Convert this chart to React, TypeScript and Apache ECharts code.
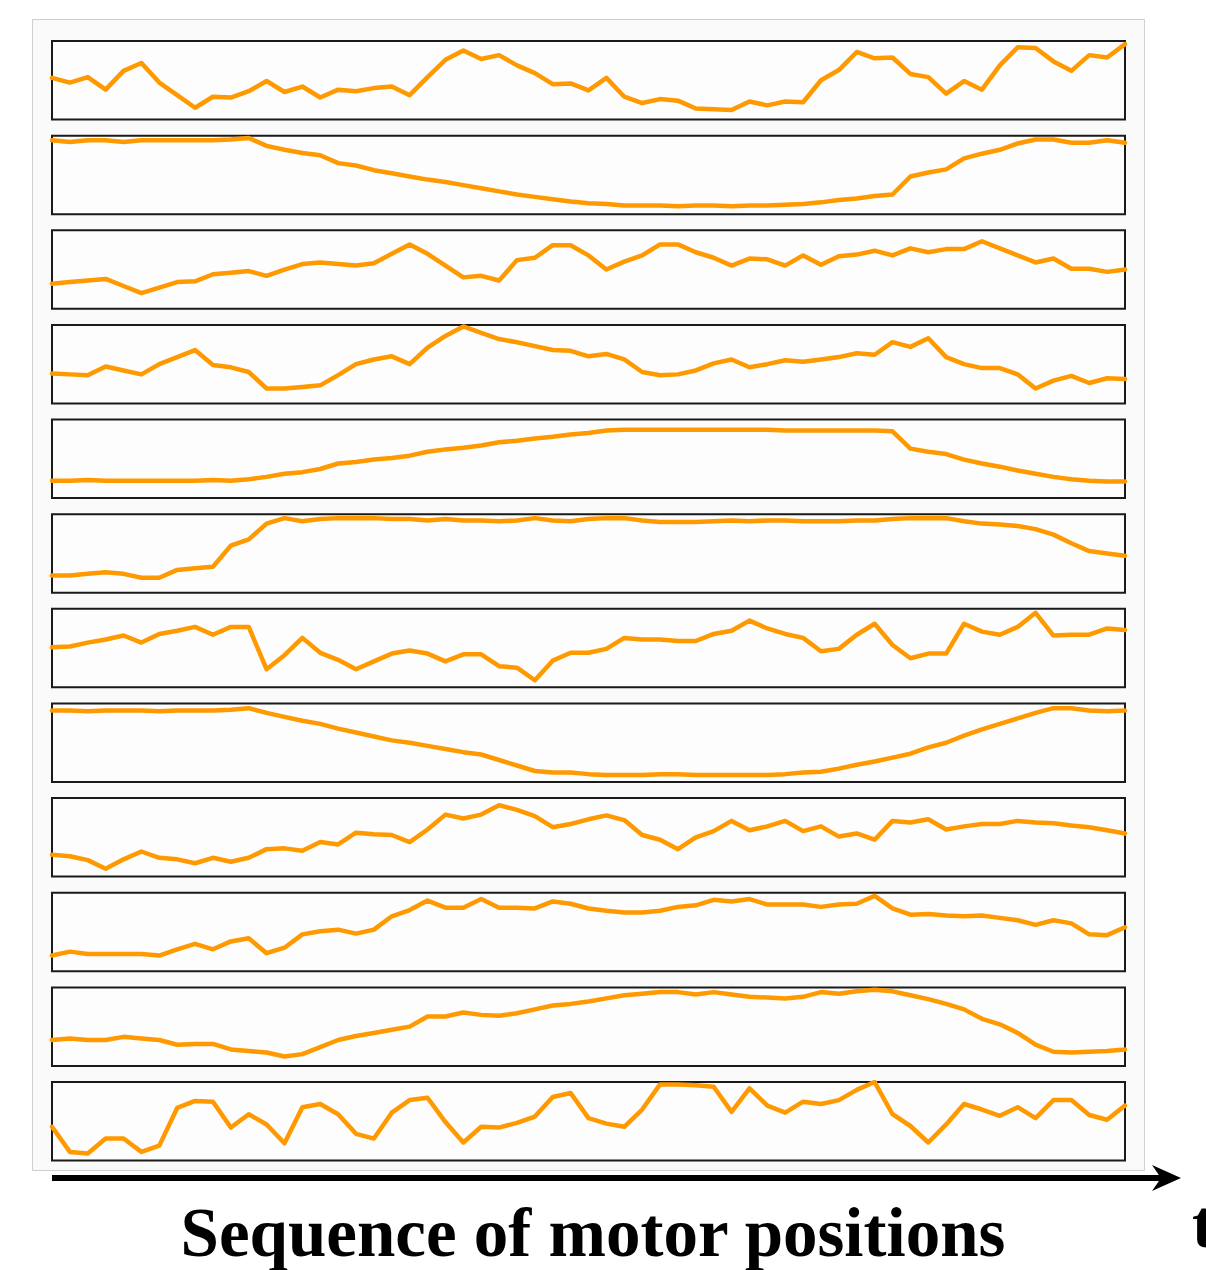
import React, { useEffect, useRef } from "react";
import * as echarts from "echarts";

// 61 time steps (category labels along the shared time axis)
const steps: string[] = [
  "0","1","2","3","4","5","6","7","8","9","10","11","12","13","14","15","16","17","18","19","20",
  "21","22","23","24","25","26","27","28","29","30","31","32","33","34","35","36","37","38","39","40",
  "41","42","43","44","45","46","47","48","49","50","51","52","53","54","55","56","57","58","59","60",
];

// normalised motor positions (0 = bottom of panel, 100 = top of panel)
const motor1 = [53,47,54,38,62,72,47,31,15,29,28,36,49,35,42,28,38,36,40,42,31,54,76,88,77,82,69,59,45,46,37,53,29,21,26,24,14,13,12,23,18,23,22,50,63,86,78,79,58,54,33,49,38,69,92,91,74,62,82,79,96];
const motor2 = [94,92,94,94,92,94,94,94,94,94,95,97,87,82,78,75,65,62,56,52,48,44,41,37,33,29,25,22,19,16,14,13,11,11,11,10,11,11,10,11,11,12,13,15,18,20,23,25,48,53,57,71,77,82,90,95,95,91,91,94,91];
const motor3 = [32,34,36,38,29,20,27,34,35,44,46,48,42,50,57,59,57,55,58,70,82,70,55,40,42,36,62,65,81,81,68,50,60,68,82,82,72,65,55,64,63,55,68,56,67,69,74,68,77,72,76,76,86,77,68,59,64,51,51,47,50];
const motor4 = [38,37,36,47,42,37,50,59,68,49,46,40,19,19,21,23,36,50,56,60,50,71,86,98,90,82,78,73,68,67,60,63,56,40,36,37,42,51,56,46,50,55,53,56,59,64,62,78,72,83,59,50,45,45,37,19,29,35,26,32,31];
const motor5 = [22,22,23,22,22,22,22,22,22,23,22,24,27,31,33,37,44,46,49,51,54,59,62,64,67,71,73,76,78,81,83,86,87,87,87,87,87,87,87,87,87,86,86,86,86,86,86,85,63,59,56,49,44,40,35,31,27,24,22,21,21];
const motor6 = [22,22,24,26,24,19,19,29,31,33,60,68,88,95,91,94,95,95,95,94,94,92,94,92,92,91,92,95,92,91,94,95,95,92,90,90,90,91,92,91,92,92,91,91,91,92,92,94,95,95,95,91,88,87,85,81,74,63,53,50,47];
const motor7 = [51,52,57,61,66,57,68,72,77,67,77,77,23,41,63,44,35,23,33,43,47,43,33,42,42,27,25,9,34,44,44,49,63,61,61,59,59,68,72,85,75,68,63,46,49,67,81,54,37,43,43,81,71,67,77,95,66,67,67,75,73];
const motor8 = [91,91,90,91,91,91,90,91,91,91,92,94,88,83,78,74,68,63,58,53,50,46,42,38,35,28,21,14,12,12,10,9,9,9,10,10,9,9,9,9,9,10,12,13,17,22,26,31,36,44,50,59,67,74,81,88,94,94,91,90,91];
const motor9 = [28,26,21,10,22,32,24,22,17,24,19,24,35,36,33,44,41,56,54,53,44,60,79,74,79,91,85,77,63,67,73,78,72,53,47,35,50,58,71,59,64,71,58,64,51,55,47,71,69,73,60,64,67,67,71,69,68,65,63,59,55];
const motor10 = [20,25,22,22,22,22,20,28,35,28,38,42,23,30,47,51,53,48,53,70,78,90,81,81,92,81,81,80,89,86,80,77,75,75,77,82,84,91,89,92,85,85,85,82,85,86,96,80,72,73,71,70,71,68,65,59,65,61,47,46,56];
const motor11 = [33,35,33,33,37,35,33,27,28,28,21,19,17,12,15,24,33,38,42,46,50,63,63,68,65,64,67,72,77,79,82,86,90,92,94,94,91,94,91,88,87,86,88,94,92,95,97,95,90,85,79,72,60,53,42,27,18,17,18,19,21];
const motor12 = [43,11,9,28,28,11,19,67,76,75,42,59,46,22,68,72,59,34,28,61,77,80,49,23,43,42,48,56,81,86,54,47,43,65,97,97,96,94,62,92,70,61,75,72,77,90,100,59,44,23,46,72,65,57,68,54,77,77,58,52,70];

const motors = [motor1, motor2, motor3, motor4, motor5, motor6, motor7, motor8, motor9, motor10, motor11, motor12];

const axisTitle = "Sequence of motor positions";
const timeLabel = "t";

export default function App() {
  const ref = useRef<HTMLDivElement>(null);

  useEffect(() => {
    document.body.style.margin = "0";
    const chart = echarts.init(ref.current as HTMLDivElement, null, { renderer: "svg" });

    const PANEL_LEFT = 52;
    const PANEL_WIDTH = 1073;
    const PANEL_TOP = 41;
    const PANEL_PITCH = 94.64;
    const PANEL_HEIGHT = 78.5;

    chart.setOption({
      animation: false,
      backgroundColor: "#ffffff",
      grid: motors.map((_, k) => ({
        left: PANEL_LEFT,
        width: PANEL_WIDTH,
        top: PANEL_TOP + PANEL_PITCH * k,
        height: PANEL_HEIGHT,
        show: true,
        borderColor: "#1a1a1a",
        borderWidth: 2,
        backgroundColor: "#fdfdfd",
        z: 2,
      })),
      xAxis: motors.map((_, k) => ({
        type: "category",
        data: steps,
        boundaryGap: false,
        gridIndex: k,
        show: false,
      })),
      yAxis: motors.map((_, k) => ({
        type: "value",
        min: 0,
        max: 100,
        gridIndex: k,
        show: false,
      })),
      series: motors.map((d, k) => ({
        type: "line",
        data: d,
        xAxisIndex: k,
        yAxisIndex: k,
        symbol: "none",
        showSymbol: false,
        lineStyle: { color: "#ff9900", width: 4.5, join: "round", cap: "round" },
        z: 3,
      })),
      graphic: [
        {
          type: "rect",
          z: 0,
          shape: { x: 32.5, y: 19.5, width: 1112, height: 1151 },
          style: { fill: "#fafafa", stroke: "#cfcfcf", lineWidth: 1 },
        },
        {
          type: "line",
          z: 10,
          shape: { x1: 52, y1: 1178, x2: 1162, y2: 1178 },
          style: { stroke: "#000000", lineWidth: 6 },
        },
        {
          type: "polygon",
          z: 10,
          shape: { points: [[1181, 1178], [1152, 1165], [1161, 1178], [1152, 1191]] },
          style: { fill: "#000000" },
        },
        {
          type: "text",
          z: 10,
          x: 593,
          y: 1233,
          style: {
            text: axisTitle,
            fontSize: 69,
            fontWeight: "bold",
            fontFamily: "Liberation Serif",
            fill: "#000000",
            textAlign: "center",
            textVerticalAlign: "middle",
            verticalAlign: "middle",
          },
        },
        {
          type: "text",
          z: 10,
          x: 1192,
          y: 1224,
          style: {
            text: timeLabel,
            fontSize: 67,
            fontWeight: "bold",
            fontFamily: "Liberation Serif",
            fill: "#000000",
            textAlign: "left",
            textVerticalAlign: "middle",
            verticalAlign: "middle",
          },
        },
      ],
    });

    return () => chart.dispose();
  }, []);

  return (
    <div
      ref={ref}
      style={{ position: "absolute", left: 0, top: 0, width: 1206, height: 1270 }}
    />
  );
}
